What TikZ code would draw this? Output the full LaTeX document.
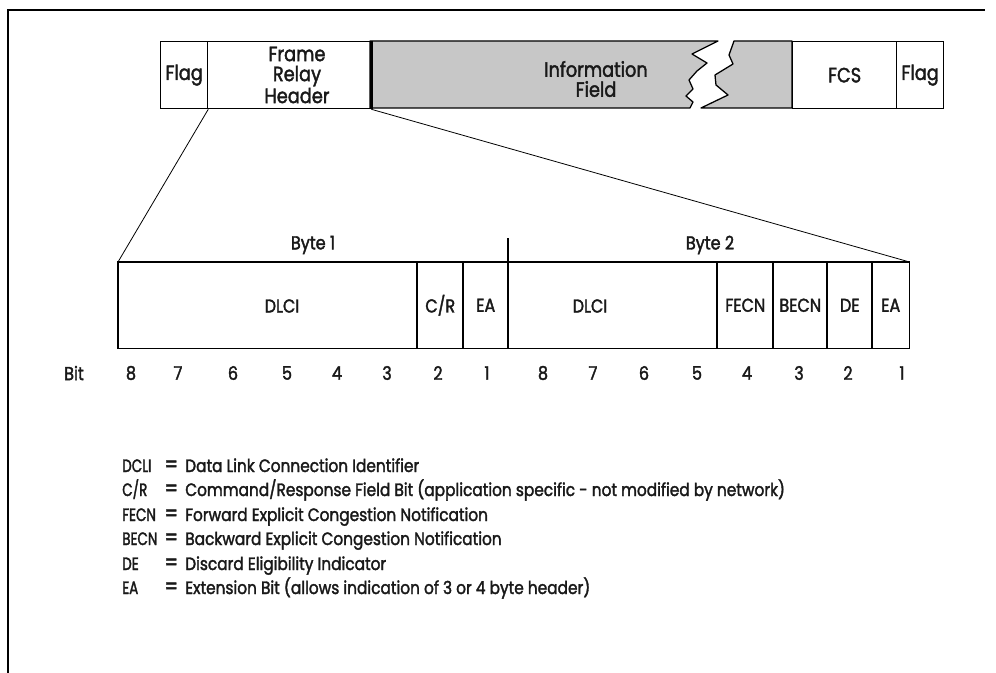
\documentclass[tikz,border=0pt]{standalone}
\usepackage{fontspec}
\setmainfont{Poppins}[FakeStretch=0.86, FakeBold=1.9]
\begin{document}
\begin{tikzpicture}[x=0.75pt,y=-0.75pt,
  outline/.style={line width=0.95pt},
  sepline/.style={line width=1.9pt},
  topbox/.style={draw, outline, inner sep=0pt, anchor=north west, minimum height=67*0.75pt},
  fieldbox/.style={inner sep=0pt, anchor=north west, minimum height=86*0.75pt},
  toptext/.style={font=\fontsize{15.5}{15}\selectfont, text=black!90, align=center, inner sep=0pt},
  lbl/.style={font=\fontsize{14}{16}\selectfont, text=black!90, inner sep=0pt},
  bitnum/.style={font=\fontsize{14}{16}\selectfont, text=black!90, inner sep=0pt},
  legend/.style={font=\fontsize{13.4}{15}\selectfont, text=black!90, inner sep=0pt, anchor=base west},
  abbrev/.style={legend, xscale=0.88},
  infofill/.style={fill=black!22, draw, outline, line join=round}
]
\useasboundingbox (0,0) rectangle (996,673);

% page frame (left and top rules only)
\draw[line width=1.1pt] (8,673) -- (8,10) -- (985,10);

% ---- frame layout ----
\node[topbox, minimum width=47*0.75pt] (flagA) at (160,41) {};
\node[toptext] (flagAtext) at (flagA.center) {Flag};
\node[topbox, minimum width=163*0.75pt] (header) at (207,41) {};
\node[toptext] (headerText) at (297,75) {Frame\\Relay\\Header};

% information field with a torn gap
\path[infofill] (370,41) -- (718,41) -- (692,54) -- (707,63) -- (697,71)
  -- (689,80) -- (693,89) -- (686,96) -- (693,102) -- (690,108) -- (370,108) -- cycle;
\path[infofill] (734,41) -- (792,41) -- (792,108) -- (701,108) -- (728,95)
  -- (716,85) -- (715,75) -- (733,64) -- (729,55) -- cycle;
\node[toptext] (infoText) at (596,79) {Information\\Field};

\node[topbox, minimum width=104*0.75pt] (fcs) at (792,41) {};
\node[toptext] (fcsText) at (fcs.center) {FCS};
\node[topbox, minimum width=47*0.75pt] (flagB) at (896,41) {};
\node[toptext] (flagBtext) at (flagB.center) {Flag};
\draw[sepline] (header.north east) -- (header.south east);

% ---- header fields ----
\node[fieldbox, minimum width=299*0.75pt] (dlciA) at (118,262) {};
\node[fieldbox, minimum width=46*0.75pt]  (cr)    at (417,262) {};
\node[fieldbox, minimum width=45*0.75pt]  (eaA)   at (463,262) {};
\node[fieldbox, minimum width=209*0.75pt] (dlciB) at (508,262) {};
\node[fieldbox, minimum width=56*0.75pt]  (fecn)  at (717,262) {};
\node[fieldbox, minimum width=54*0.75pt]  (becn)  at (773,262) {};
\node[fieldbox, minimum width=45*0.75pt]  (de)    at (827,262) {};
\node[fieldbox, minimum width=37*0.75pt]  (eaB)   at (872,262) {};

\draw[outline] (dlciA.north west) rectangle (eaB.south east);
\foreach \f in {cr,eaA,fecn,becn,de,eaB}
  \draw[sepline] (\f.north west) -- (\f.south west);
\coordinate (byteTop) at (508,238);
\draw[sepline] (dlciB.south west) -- (byteTop);

\node[lbl] (tDlciA) at (282,306) {DLCI};
\node[lbl] (tCr)    at (cr.center)   {C/R};
\node[lbl] (tEaA)   at (eaA.center)  {EA};
\node[lbl] (tDlciB) at (590,306) {DLCI};
\node[lbl] (tFecn)  at (fecn.center) {FECN};
\node[lbl] (tBecn)  at (becn.center) {BECN};
\node[lbl] (tDe)    at (de.center)   {DE};
\node[lbl] (tEaB)   at (eaB.center)  {EA};

\node[lbl] (byte1) at (313,245) {Byte 1};
\node[lbl] (byte2) at (710,245) {Byte 2};

% expansion lines
\draw[line width=0.6pt] (flagA.south east) -- (dlciA.north west);
\draw[line width=0.6pt] (header.south east) -- (eaB.north east);

% bit numbering
\node[bitnum] (bitLabel) at (74,373) {Bit};
\foreach \n/\xx/\d in {a/131/8, b/178/7, c/233/6, d/287/5, e/337/4, f/387/3, g/438/2, h/487/1,
                       i/543/8, j/593/7, k/644/6, l/697/5, m/747/4, n/799/3, o/848/2, p/902/1}
  \node[bitnum] (bit\n) at (\xx,373) {\d};

% legend
\foreach \k/\yy in {1/472,2/496,3/521,4/545,5/570,6/594}
  \node[legend, scale=1.25] (eq\k) at (164,\yy) {=};
\node[abbrev] (abbr1) at (122,472) {DCLI};
\node[legend] (desc1) at (185,472) {Data Link Connection Identifier};
\node[abbrev] (abbr2) at (122,496) {C/R};
\node[legend] (desc2) at (185,496) {Command/Response Field Bit (application specific - not modified by network)};
\node[abbrev] (abbr3) at (122,521) {FECN};
\node[legend] (desc3) at (185,521) {Forward Explicit Congestion Notification};
\node[abbrev] (abbr4) at (122,545) {BECN};
\node[legend] (desc4) at (185,545) {Backward Explicit Congestion Notification};
\node[abbrev] (abbr5) at (122,570) {DE};
\node[legend] (desc5) at (185,570) {Discard Eligibility Indicator};
\node[abbrev] (abbr6) at (122,594) {EA};
\node[legend] (desc6) at (185,594) {Extension Bit (allows indication of 3 or 4 byte header)};
\end{tikzpicture}
\end{document}
